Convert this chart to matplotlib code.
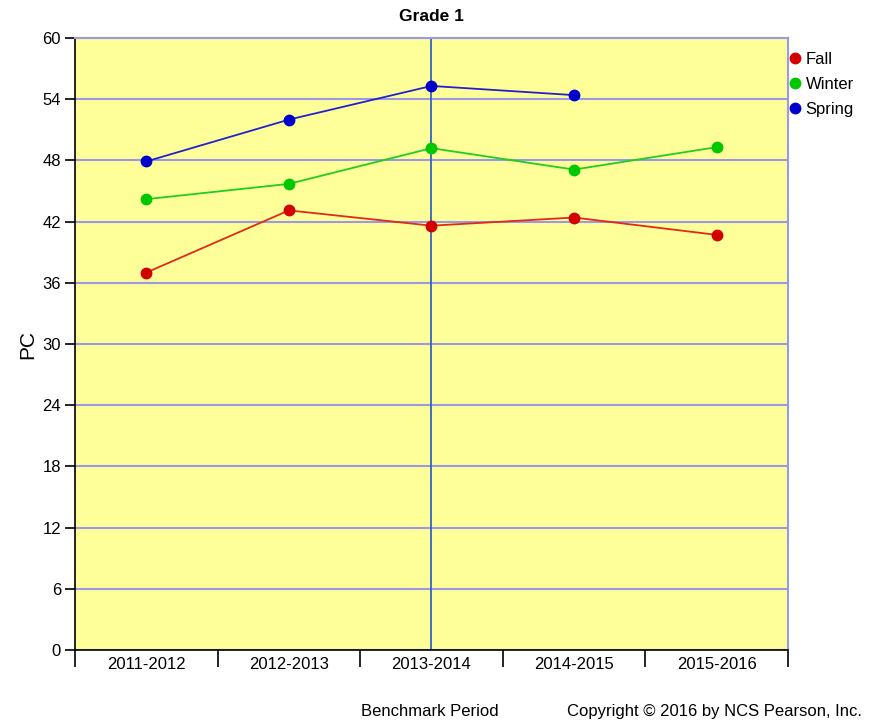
import matplotlib.pyplot as plt
from matplotlib.lines import Line2D

plt.rcParams['font.family'] = ['Liberation Sans Narrow', 'Liberation Sans', 'DejaVu Sans']

periods = ['2011-2012', '2012-2013', '2013-2014', '2014-2015', '2015-2016']
fall = [37.0, 43.1, 41.6, 42.4, 40.7]
winter = [44.2, 45.7, 49.2, 47.1, 49.3]
spring = [47.9, 52.0, 55.3, 54.4, None]
yticks = list(range(0, 61, 6))

series = [
    ('Fall', fall, '#d40000', '#e02a1a'),
    ('Winter', winter, '#00c800', '#22cc22'),
    ('Spring', spring, '#0000cc', '#2222cc'),
]

fig = plt.figure(figsize=(8.77, 7.24), dpi=100)
ax = fig.add_axes([0.0855, 0.1022, 0.8130, 0.8453])
ax.set_facecolor('#ffff99')

x = list(range(len(periods)))
for y in yticks:
    ax.axhline(y, color='#9999e6', lw=1.5, zorder=1)
ax.axvline(2, color='#3565c0', lw=1.3, zorder=2)

for name, vals, mcol, lcol in series:
    xs = [i for i, v in zip(x, vals) if v is not None]
    ys = [v for v in vals if v is not None]
    ax.plot(xs, ys, color=lcol, lw=1.3, zorder=3)
    ax.plot(xs, ys, 'o', color=mcol, ms=7.5, zorder=4)

ax.set_xlim(-0.5, len(periods) - 0.5)
ax.set_ylim(0, 60)
ax.set_yticks(yticks)
ax.set_xticks([i - 0.5 for i in range(len(periods) + 1)])
ax.set_xticklabels([])
ax.set_xticks(x, minor=True)
ax.set_xticklabels(periods, minor=True)
ax.tick_params(axis='x', which='major', length=12, width=1.2, direction='out')
ax.tick_params(axis='x', which='minor', length=0, pad=5, labelsize=12)
ax.tick_params(axis='y', length=7, width=1.2, labelsize=12, pad=3)

for s in ['left', 'bottom']:
    ax.spines[s].set_color('black')
    ax.spines[s].set_linewidth(1.2)
for s in ['top', 'right']:
    ax.spines[s].set_color('#9999e6')
    ax.spines[s].set_linewidth(1.5)

ax.set_ylabel('PC', fontsize=15, labelpad=4)
ax.set_title('Grade 1', fontsize=12.5, fontweight='bold', pad=12)
fig.text(0.49, 0.0166, 'Benchmark Period', fontsize=12, ha='center', va='center')
fig.text(0.983, 0.0166, 'Copyright \u00a9 2016 by NCS Pearson, Inc.', fontsize=12,
         ha='right', va='center')

handles = [Line2D([], [], ls='', marker='o', color=m, ms=7.5) for _, _, m, _ in series]
fig.legend(handles, [s[0] for s in series], loc='upper left',
           bbox_to_anchor=(0.888, 0.938), frameon=False, fontsize=12,
           handletextpad=0.0, labelspacing=0.62, handlelength=1.2, borderaxespad=0)

fig.savefig('out.png', dpi=100)
